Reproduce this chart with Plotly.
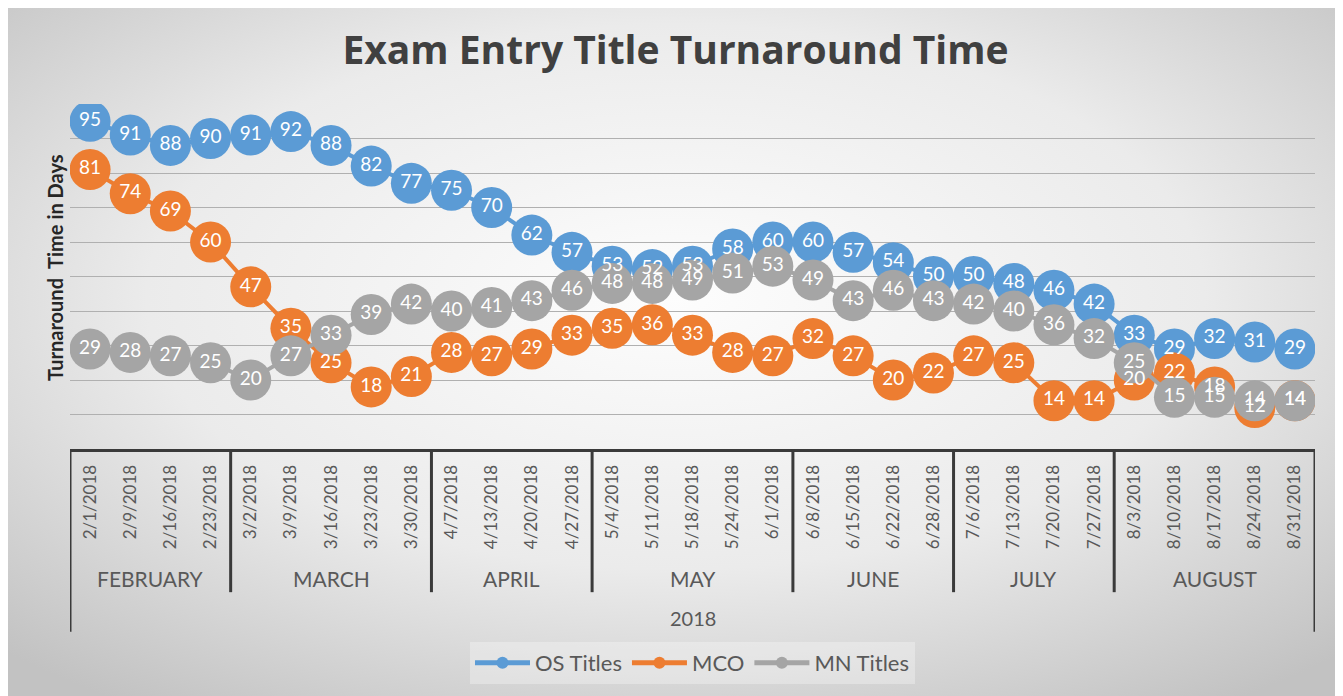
import base64
import plotly.graph_objects as go

dates = ["2/1/2018", "2/9/2018", "2/16/2018", "2/23/2018",
         "3/2/2018", "3/9/2018", "3/16/2018", "3/23/2018", "3/30/2018",
         "4/7/2018", "4/13/2018", "4/20/2018", "4/27/2018",
         "5/4/2018", "5/11/2018", "5/18/2018", "5/24/2018", "6/1/2018",
         "6/8/2018", "6/15/2018", "6/22/2018", "6/28/2018",
         "7/6/2018", "7/13/2018", "7/20/2018", "7/27/2018",
         "8/3/2018", "8/10/2018", "8/17/2018", "8/24/2018", "8/31/2018"]
months = ["FEBRUARY", "MARCH", "APRIL", "MAY", "JUNE", "JULY", "AUGUST"]
month_counts = [4, 5, 4, 5, 4, 4, 5]
year = "2018"

os_titles = [95, 91, 88, 90, 91, 92, 88, 82, 77, 75, 70, 62, 57, 53, 52, 53,
             58, 60, 60, 57, 54, 50, 50, 48, 46, 42, 33, 29, 32, 31, 29]
mco = [81, 74, 69, 60, 47, 35, 25, 18, 21, 28, 27, 29, 33, 35, 36, 33,
       28, 27, 32, 27, 20, 22, 27, 25, 14, 14, 20, 22, 18, 12, 14]
mn_titles = [29, 28, 27, 25, 20, 27, 33, 39, 42, 40, 41, 43, 46, 48, 48, 49,
             51, 53, 49, 43, 46, 43, 42, 40, 36, 32, 25, 15, 15, 14, 14]

series = [("OS Titles", os_titles, "#5b9bd5"),
          ("MCO", mco, "#ed7d31"),
          ("MN Titles", mn_titles, "#a5a5a5")]

FONT = "Lato"

fig = go.Figure()
for name, vals, col in series:
    fig.add_trace(go.Scatter(
        x=dates, y=vals, name=name, mode="lines+markers",
        line=dict(color=col, width=4),
        marker=dict(size=41, color=col),
        hoverinfo="skip"
    ))
# labels drawn above every marker, as in the original
for name, vals, col in series:
    fig.add_trace(go.Scatter(
        x=dates, y=vals, mode="text", text=[str(v) for v in vals],
        textposition="middle center",
        textfont=dict(family=FONT, size=19, color="white"),
        showlegend=False, hoverinfo="skip"
    ))

# page body has an 8px margin, so the figure is 8px smaller than the window
W, H = 1335, 688
L, R, T, B = 62, 28, 96, 247
pw, ph = W - L - R, H - T - B

svg = ("<svg xmlns='http://www.w3.org/2000/svg' width='1343' height='696' "
       "preserveAspectRatio='none'><defs><radialGradient id='g' cx='50%' cy='42%' r='72%'>"
       "<stop offset='0' stop-color='#fdfdfd'/><stop offset='0.55' stop-color='#ebebeb'/>"
       "<stop offset='1' stop-color='#c2c2c2'/></radialGradient></defs>"
       "<rect width='1343' height='696' fill='url(#g)'/></svg>")
bg = "data:image/svg+xml;base64," + base64.b64encode(svg.encode()).decode()

shapes = []
annotations = []
start = 0
bounds = [-0.5]
for m, c in zip(months, month_counts):
    annotations.append(dict(x=start + (c - 1) / 2, y=-0.374, xref="x", yref="paper",
                            xanchor="center", yanchor="middle",
                            text=m, showarrow=False,
                            font=dict(family=FONT, size=21, color="#595959")))
    start += c
    bounds.append(start - 0.5)
for i, b in enumerate(bounds):
    outer = i == 0 or i == len(bounds) - 1
    shapes.append(dict(type="line", xref="x", yref="paper", x0=b, x1=b,
                       y0=0, y1=-0.53 if outer else -0.415,
                       line=dict(color="#3a3a3a", width=3)))
annotations.append(dict(x=(len(dates) - 1) / 2, y=-0.49, xref="x", yref="paper",
                        xanchor="center", yanchor="middle",
                        text=year, showarrow=False,
                        font=dict(family=FONT, size=20, color="#595959")))
annotations.append(dict(x=-15 / pw, y=0.525, xref="paper", yref="paper",
                        xanchor="center", yanchor="middle",
                        text="Turnaround  Time in Days", textangle=-90, showarrow=False,
                        font=dict(family=FONT, size=20, color="#262626", weight="bold")))

fig.update_layout(
    width=W, height=H,
    margin=dict(l=L, r=R, t=T, b=B),
    paper_bgcolor="#e2e2e2", plot_bgcolor="rgba(0,0,0,0)",
    images=[dict(source=bg, xref="paper", yref="paper", x=-L / pw, y=1 + T / ph,
                 sizex=W / pw, sizey=H / ph, sizing="stretch", layer="below")],
    title=dict(text="<b>Exam Entry Title Turnaround Time</b>", x=0.5, xref="container",
               xanchor="center", y=1 - 42 / H, yanchor="middle",
               font=dict(family="Open Sans", size=39, color="#404040")),
    xaxis=dict(type="category", range=[-0.5, len(dates) - 0.5], tickangle=-90,
               showgrid=False, showline=True, linecolor="#3a3a3a", linewidth=3,
               ticks="", ticklabelstandoff=6,
               tickfont=dict(family=FONT, size=17, color="#595959")),
    yaxis=dict(range=[0, 100], dtick=10, showticklabels=False, showgrid=True,
               gridcolor="#b0b0b0", gridwidth=1, zeroline=False),
    shapes=shapes, annotations=annotations,
    legend=dict(orientation="h", x=0.5, xanchor="center", y=(T + ph - 655) / ph,
                yanchor="middle", bgcolor="rgba(255,255,255,0.3)",
                font=dict(family=FONT, size=22, color="#595959"),
                itemsizing="constant", itemwidth=55),
    showlegend=True,
)

fig.write_html("out.html")
